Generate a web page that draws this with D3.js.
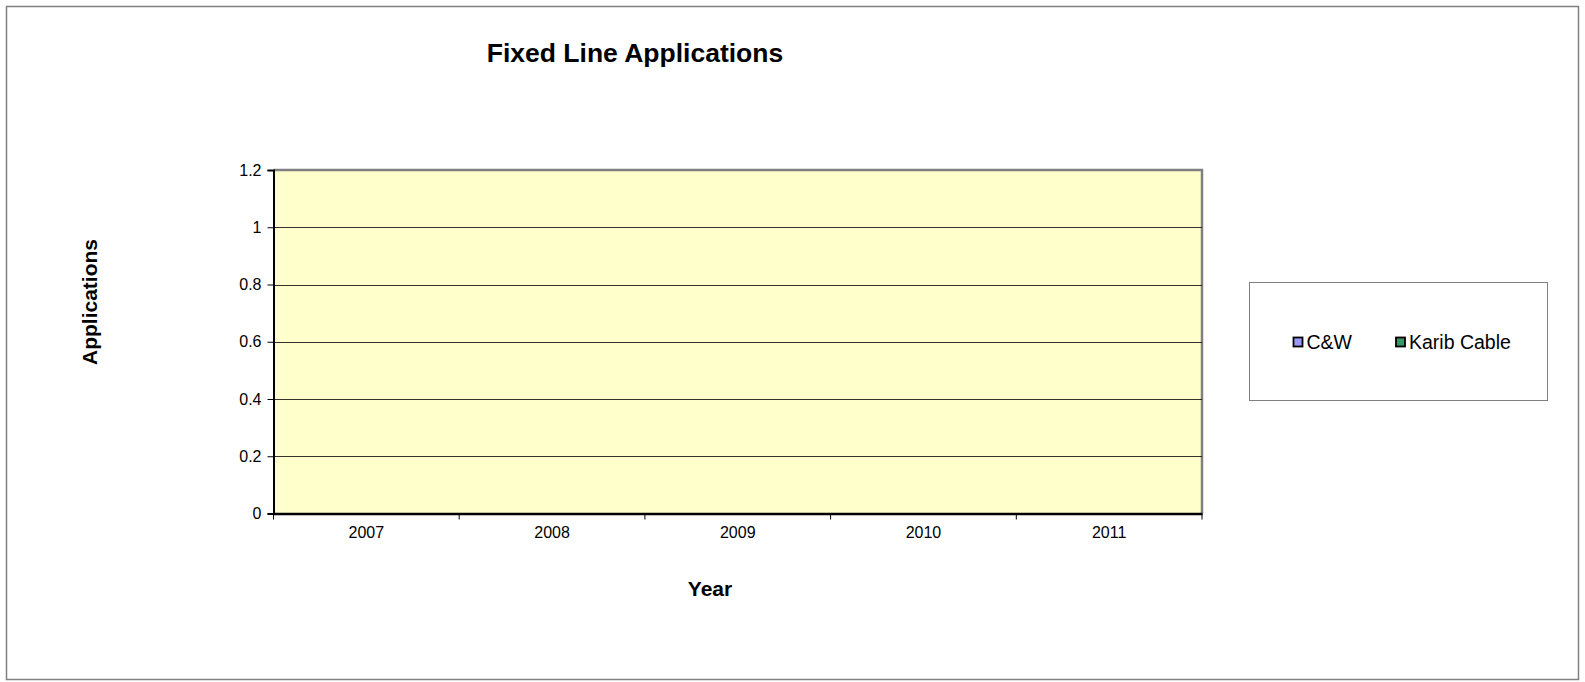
<!DOCTYPE html>
<html><head><meta charset="utf-8">
<script src="https://cdn.jsdelivr.net/npm/d3@7"></script>
<style>body{margin:0;background:#fff;}svg{display:block;font-family:"Liberation Sans",Arial,sans-serif;}</style>
</head><body>
<svg id="c" width="1585" height="682"></svg>
<script>
const categories = ["2007","2008","2009","2010","2011"];
const seriesNames = ["C&W","Karib Cable"];
const cwValues = [0,0,0,0,0];
const karibValues = [0,0,0,0,0];
const yTicks = [0,0.2,0.4,0.6,0.8,1,1.2];
const seriesColors = ["#9999FF","#339966"];

const svg = d3.select("#c");
svg.append("rect").attr("x",6.5).attr("y",6.5).attr("width",1572).attr("height",673)
  .attr("fill","#fff").attr("stroke","#808080").attr("stroke-width",1.5);

const L=273.5, R=1202, T=170, B=513.5;
const x = d3.scaleBand().domain(categories).range([L,R]);
const xs = d3.scaleBand().domain(seriesNames).range([0,x.bandwidth()]).paddingInner(0).paddingOuter(0.5);
const y = d3.scaleLinear().domain([0,1.2]).range([B,T]);

svg.append("rect").attr("x",L).attr("y",T).attr("width",R-L).attr("height",B-T).attr("fill","#FFFFCC");
svg.append("path").attr("d",`M${L},${T}H${R}V${B}`).attr("fill","none").attr("stroke","#808080").attr("stroke-width",2.5);

svg.append("g").selectAll("line").data(yTicks.filter(d=>d>0 && d<1.2)).join("line")
  .attr("x1",L).attr("x2",R).attr("y1",d=>Math.round(y(d))+0.5).attr("y2",d=>Math.round(y(d))+0.5)
  .attr("stroke","#000").attr("stroke-width",0.8);

const data = categories.map((c,i)=>({c, vals:[cwValues[i],karibValues[i]]}));
const g = svg.append("g");
data.forEach(d=>{
  d.vals.forEach((v,j)=>{
    g.append("rect").attr("x",x(d.c)+xs(seriesNames[j])).attr("width",xs.bandwidth())
      .attr("y",y(v)).attr("height",B-y(v)).attr("fill",seriesColors[j]).attr("stroke","#000");
  });
});

const ya = svg.append("g").attr("transform",`translate(${L},0)`)
  .call(d3.axisLeft(y).tickValues(yTicks).tickSize(6).tickPadding(6).tickFormat(d3.format("~g")));
ya.select(".domain").attr("stroke","#000").attr("stroke-width",2);
ya.selectAll("text").attr("font-size",16).attr("fill","#000").style("font-family","Liberation Sans, Arial");

const xa = svg.append("g").attr("transform",`translate(0,${B})`)
  .call(d3.axisBottom(x).tickSize(0).tickPadding(13));
xa.select(".domain").attr("stroke","#000").attr("stroke-width",2.5);
xa.selectAll("text").attr("font-size",16).attr("fill","#000").style("font-family","Liberation Sans, Arial");
svg.append("g").selectAll("line").data(d3.range(categories.length+1)).join("line")
  .attr("x1",i=>L+i*x.step()).attr("x2",i=>L+i*x.step()).attr("y1",B).attr("y2",B+6)
  .attr("stroke","#000").attr("stroke-width",1);

svg.append("text").attr("x",635).attr("y",62).attr("text-anchor","middle")
  .attr("font-size",26.5).attr("font-weight","bold").text("Fixed Line Applications");
svg.append("text").attr("x",710).attr("y",596).attr("text-anchor","middle")
  .attr("font-size",21).attr("font-weight","bold").text("Year");
svg.append("text").attr("transform","translate(97,302) rotate(-90)").attr("text-anchor","middle")
  .attr("font-size",21).attr("font-weight","bold").text("Applications");

svg.append("rect").attr("x",1249.5).attr("y",282.5).attr("width",298).attr("height",118)
  .attr("fill","#fff").attr("stroke","#808080").attr("stroke-width",1);
const legX = [1293.5,1396];
seriesNames.forEach((n,i)=>{
  svg.append("rect").attr("x",legX[i]).attr("y",337.5).attr("width",9).attr("height",9)
    .attr("fill",seriesColors[i]).attr("stroke","#000").attr("stroke-width",1.8);
  svg.append("text").attr("x",legX[i]+13).attr("y",348.5).attr("font-size",19.5).text(n);
});
</script>
</body></html>
